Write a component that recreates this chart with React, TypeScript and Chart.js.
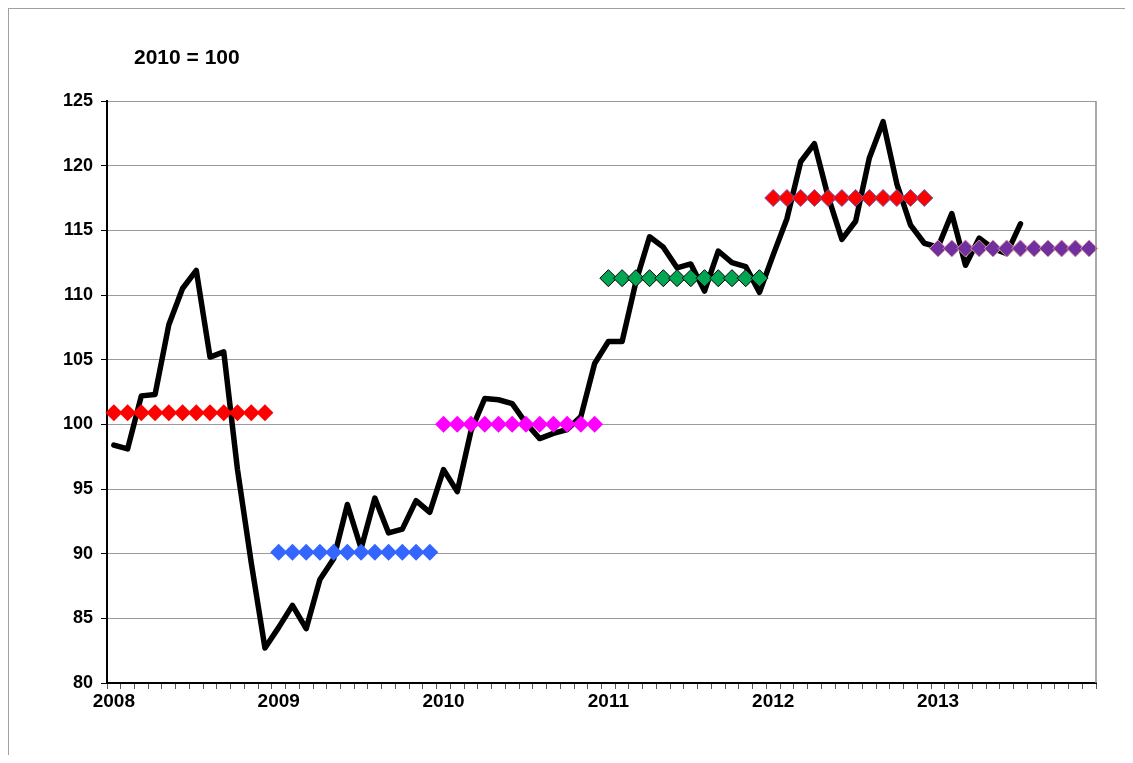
import React, { useEffect, useRef } from "react";
import { Chart, registerables } from "chart.js";

Chart.register(...registerables);

const years = ["2008", "2009", "2010", "2011", "2012", "2013"];

// Monthly index, Jan 2008 – Jul 2013 (2010 = 100)
const indexValues = [
  98.4, 98.1, 102.2, 102.3, 107.7, 110.5, 111.9, 105.2, 105.6, 96.5, 89.3, 82.7,
  84.3, 86.0, 84.2, 88.0, 89.6, 93.8, 90.4, 94.3, 91.6, 91.9, 94.1, 93.2,
  96.5, 94.8, 99.5, 102.0, 101.9, 101.6, 100.1, 98.9, 99.3, 99.6, 100.6, 104.7,
  106.4, 106.4, 111.0, 114.5, 113.7, 112.1, 112.4, 110.3, 113.4, 112.5, 112.2, 110.2,
  113.1, 115.9, 120.3, 121.7, 117.6, 114.3, 115.7, 120.6, 123.4, 118.6, 115.4, 114.0,
  113.7, 116.3, 112.3, 114.4, 113.6, 113.2, 115.5,
];

// Annual averages, drawn as diamonds over each year's months
const annualAverages = [100.9, 90.1, 100.0, 111.3, 117.5, 113.6];
const diamondFill = ["#FF0000", "#3366FF", "#FF00FF", "#00A651", "#FF0000", "#7030A0"];
const diamondBorder = ["#FF0000", "#3366FF", "#FF00FF", "#000000", "#6A5AAA", "#D9959B"];
const diamondBorderWidth = [0, 0, 0, 1, 1, 1];

const monthLabels: string[] = [];
years.forEach((y) => {
  for (let m = 1; m <= 12; m++) monthLabels.push(`${y}-${String(m).padStart(2, "0")}`);
});

const yMin = 80;
const yMax = 125;
const yStep = 5;

const FONT = "'Liberation Sans', Arial, sans-serif";

export default function App() {
  const canvasRef = useRef<HTMLCanvasElement | null>(null);

  useEffect(() => {
    if (!canvasRef.current) return;

    const diamondSets = annualAverages.map((avg, k) => ({
      type: "line" as const,
      label: `Average ${years[k]}`,
      data: monthLabels.map((_, i) => (Math.floor(i / 12) === k ? avg : null)),
      showLine: false,
      pointStyle: "rectRot" as const,
      pointRadius: 8.5,
      pointBackgroundColor: diamondFill[k],
      pointBorderColor: diamondBorder[k],
      pointBorderWidth: diamondBorderWidth[k],
      order: 1,
    }));

    const lineSet = {
      type: "line" as const,
      label: "Index",
      data: indexValues,
      borderColor: "#000000",
      borderWidth: 5.5,
      pointRadius: 0,
      tension: 0,
      fill: false,
      borderJoinStyle: "round" as const,
      borderCapStyle: "round" as const,
      order: 2,
    };

    const frame = {
      id: "frame",
      afterDatasetsDraw(chart: any) {
        const { ctx, chartArea } = chart;
        ctx.save();
        ctx.strokeStyle = "#8C8C8C";
        ctx.lineWidth = 1.5;
        ctx.beginPath();
        ctx.moveTo(chartArea.right, chartArea.top);
        ctx.lineTo(chartArea.right, chartArea.bottom);
        ctx.stroke();
        ctx.restore();
      },
    };

    const chart = new Chart(canvasRef.current, {
      type: "line",
      data: {
        labels: monthLabels,
        datasets: [...diamondSets, lineSet] as any,
      },
      plugins: [frame],
      options: {
        animation: false,
        responsive: false,
        maintainAspectRatio: false,
        layout: { padding: { left: 0, right: 29, top: 93, bottom: 0 } },
        plugins: {
          legend: { display: false },
          tooltip: { enabled: false },
        },
        scales: {
          x: {
            type: "category",
            offset: true,
            grid: {
              offset: true,
              drawOnChartArea: false,
              drawTicks: true,
              tickLength: 6,
              tickColor: "#555555",
            },
            border: { color: "#000000", width: 2 },
            ticks: {
              autoSkip: false,
              maxRotation: 0,
              minRotation: 0,
              padding: 1,
              color: "#000000",
              font: { family: FONT, size: 19, weight: "bold" },
              callback: (_v: any, i: number) => (i % 12 === 0 ? years[i / 12] : ""),
            },
            afterFit: (s: any) => {
              s.height = 72;
            },
          },
          y: {
            min: yMin,
            max: yMax,
            grid: {
              color: "#9A9A9A",
              lineWidth: 1,
              drawTicks: true,
              tickLength: 6,
              tickColor: "#000000",
            },
            border: { color: "#000000", width: 2 },
            ticks: {
              stepSize: yStep,
              padding: 8,
              color: "#000000",
              font: { family: FONT, size: 18, weight: "bold" },
            },
            afterFit: (s: any) => {
              s.width = 99;
            },
          },
        },
      },
    });

    return () => chart.destroy();
  }, []);

  return (
    <div
      style={{
        position: "relative",
        width: 1117,
        height: 747,
        borderTop: "1px solid #A0A0A0",
        borderLeft: "1px solid #A0A0A0",
        boxSizing: "border-box",
        background: "#FFFFFF",
      }}
    >
      <canvas
        ref={canvasRef}
        width={1117}
        height={747}
        style={{ position: "absolute", left: -1, top: -1, width: 1117, height: 747 }}
      />
      <div
        style={{
          position: "absolute",
          left: 125,
          top: 36,
          fontFamily: FONT,
          fontWeight: "bold",
          fontSize: 21,
          color: "#000",
          whiteSpace: "nowrap",
        }}
      >
        2010 = 100
      </div>
    </div>
  );
}
